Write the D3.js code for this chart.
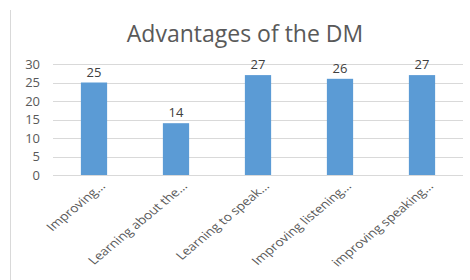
<!DOCTYPE html>
<html>
<head>
<meta charset="utf-8">
<script src="https://cdn.jsdelivr.net/npm/d3@7"></script>
<style>
  html, body { margin: 0; padding: 0; background: #fff; }
  svg { display: block; font-family: "Open Sans", "Noto Sans", sans-serif; }
</style>
</head>
<body>
<svg id="chart" width="470" height="280"></svg>
<script>
// Chart data
const categories = [
    'Improving…',
    'Learning about the…',
    'Learning to speak…',
    'Improving listening…',
    'improving speaking…'
];
const values = [25, 14, 27, 26, 27];
const yTicks = [0, 5, 10, 15, 20, 25, 30];

const svg = d3.select('#chart');
const margin = { left: 53, right: 7, top: 64, bottom: 105 };
const width = 470, height = 280;

// Outer frame edge on the left
svg.append('line')
    .attr('x1', 10.5).attr('x2', 10.5)
    .attr('y1', 10).attr('y2', height)
    .attr('stroke', '#d9d9d9').attr('stroke-width', 1);

const x = d3.scaleBand()
    .domain(categories)
    .range([margin.left, width - margin.right])
    .paddingInner(0.68)
    .paddingOuter(0.34);

const y = d3.scaleLinear()
    .domain([0, 30])
    .range([height - margin.bottom, margin.top]);

// Title
svg.append('text')
    .attr('x', 245).attr('y', 42)
    .attr('text-anchor', 'middle')
    .attr('fill', '#595959')
    .attr('font-size', '23px')
    .text('Advantages of the DM');

// Gridlines
svg.append('g')
    .selectAll('line')
    .data(yTicks)
    .join('line')
    .attr('x1', margin.left).attr('x2', width - margin.right)
    .attr('y1', d => Math.round(y(d)) + 0.5)
    .attr('y2', d => Math.round(y(d)) + 0.5)
    .attr('stroke', '#d9d9d9');

// Y axis labels
const yAxis = d3.axisLeft(y).tickValues(yTicks).tickSize(0).tickPadding(13);
svg.append('g')
    .attr('transform', `translate(${margin.left},0)`)
    .call(yAxis)
    .call(g => g.select('.domain').remove())
    .call(g => g.selectAll('text')
        .attr('fill', '#595959')
        .attr('font-size', '13px')
        .attr('font-family', '"Open Sans", sans-serif'));

// Bars
svg.append('g')
    .selectAll('rect')
    .data(values)
    .join('rect')
    .attr('x', (d, i) => x(categories[i]))
    .attr('y', d => y(d))
    .attr('width', x.bandwidth())
    .attr('height', d => y(0) - y(d))
    .attr('fill', '#5b9bd5');

// Value labels
svg.append('g')
    .selectAll('text')
    .data(values)
    .join('text')
    .attr('x', (d, i) => x(categories[i]) + x.bandwidth() / 2)
    .attr('y', d => y(d) - 6)
    .attr('text-anchor', 'middle')
    .attr('fill', '#404040')
    .attr('font-size', '13px')
    .text(d => d);

// Rotated category labels (the source picture is stretched sideways a bit)
svg.append('g')
    .selectAll('text')
    .data(categories)
    .join('text')
    .attr('transform', d => `translate(${x(d) + x.bandwidth() / 2 + 12},${y(0) + 12}) scale(1.2,1) rotate(-45)`)
    .attr('text-anchor', 'end')
    .attr('fill', '#595959')
    .attr('font-size', '11.5px')
    .text(d => d);
</script>
</body>
</html>
